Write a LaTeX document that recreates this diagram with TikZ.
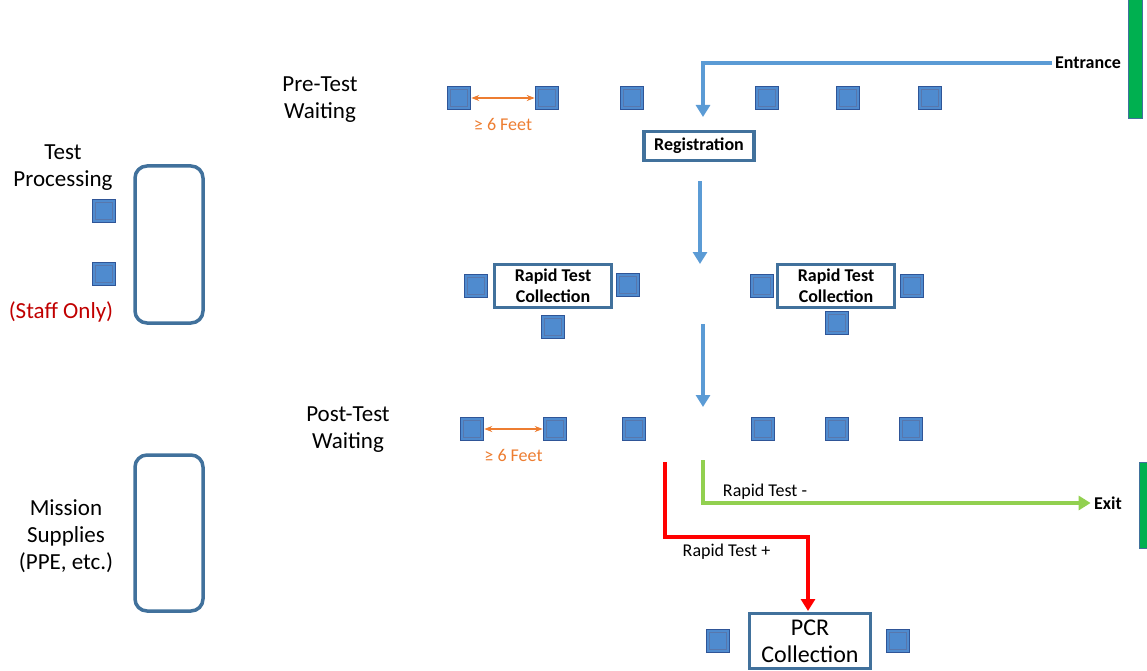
\documentclass[tikz,border=0pt]{standalone}
\usepackage{fontspec}
\setmainfont{Carlito}
\usetikzlibrary{arrows.meta}
\definecolor{seatblue}{RGB}{79,139,207}
\definecolor{seatedge}{RGB}{47,85,151}
\definecolor{boxedge}{RGB}{65,113,156}
\definecolor{flowblue}{RGB}{91,155,213}
\definecolor{flowgreen}{RGB}{146,208,80}
\definecolor{doorgreen}{RGB}{0,176,80}
\definecolor{feetorange}{RGB}{237,125,49}
\definecolor{staffred}{RGB}{192,0,0}
\tikzset{
  seat/.style={draw=seatedge,fill=seatblue,line width=1.5pt,minimum size=23pt,inner sep=0pt,
    path picture={\draw[seatedge!80,line width=0.6pt] ([shift={(3pt,-3pt)}]path picture bounding box.north west) rectangle ([shift={(-3pt,3pt)}]path picture bounding box.south east);}},
  station/.style={draw=boxedge,line width=3.5pt,fill=white,align=center,inner sep=0pt,font=\fontsize{18}{21}\selectfont\bfseries},
  room/.style={draw=boxedge,line width=3.5pt,rounded corners=12pt},
  lbl/.style={align=center,font=\fontsize{23}{27}\selectfont},
  small/.style={font=\fontsize{18}{21}\selectfont},
  flow/.style={line width=3.5pt,-{Triangle[length=12pt,width=14pt]}},
  feet/.style={feetorange,line width=1.5pt,{Stealth[length=8pt]}-{Stealth[length=8pt]}}
}
\begin{document}
\begin{tikzpicture}[x=1pt,y=-1pt]
    \useasboundingbox (0,0) rectangle (1147,671);
    \node[lbl] (pretest) at (320,100) {Pre-Test\\Waiting};
    \foreach \n/\x in {a/459,b/547,c/632,d/767,e/848,f/930}
        \node[seat] (pre\n) at (\x,98) {};
    \draw[feet] (prea) -- (preb) node[midway,below=16pt,small,text=feetorange] {≥ 6 Feet};
    \node[font=\fontsize{18}{21}\selectfont\bfseries] (entrance) at (1088,63) {Entrance};
    \fill[doorgreen,draw=boxedge] (1128,-2) rectangle (1142,118);
    \node[station,minimum width=110pt,minimum height=29pt] (reg) at (699,146) {Registration};
    \coordinate (regin) at (703,117);
    \draw[flow,flowblue] (entrance.west) -| (regin);
    \coordinate (rt1) at (700,181);
    \coordinate (rt2) at (700,264);
    \draw[flow,flowblue] (rt1) -- (rt2);
    \node[station,minimum width=117pt,minimum height=43pt] (rapidl) at (553,286) {Rapid Test\\Collection};
    \node[station,minimum width=117pt,minimum height=43pt] (rapidr) at (836,286) {Rapid Test\\Collection};
    \node[seat] (rla) at (476,286) {};
    \node[seat] (rlb) at (628,285) {};
    \node[seat] (rlc) at (553,327) {};
    \node[seat] (rra) at (762,286) {};
    \node[seat] (rrb) at (912,286) {};
    \node[seat] (rrc) at (837,323) {};
    \coordinate (pt1) at (703,324);
    \coordinate (pt2) at (703,407);
    \draw[flow,flowblue] (pt1) -- (pt2);
    \node[lbl] (posttest) at (348,430) {Post-Test\\Waiting};
    \foreach \n/\x in {a/472,b/555,c/634,d/763,e/837,f/911}
        \node[seat] (post\n) at (\x,429) {};
    \draw[feet] (posta) -- (postb) node[midway,below=16pt,small,text=feetorange] {≥ 6 Feet};
    \node[font=\fontsize{18}{21}\selectfont\bfseries] (exit) at (1108,503) {Exit};
    \fill[doorgreen,draw=boxedge] (1139,462) rectangle (1149,548);
    \coordinate (neg) at (703,460);
    \draw[flow,flowgreen] (neg) |- (exit.west) node[pos=0.58,above=-1pt,small,text=black] {Rapid Test -};
    \node[station,minimum width=121pt,minimum height=55pt,font=\fontsize{24}{27}\selectfont] (pcr) at (810,641) {PCR\\Collection};
    \coordinate (pos) at (665,462);
    \coordinate (pcrin) at (808,611);
    \draw[flow,red] (pos) -- (665,537) -- (808,537) node[pos=0.43,below=2pt,small,text=black] {Rapid Test +} -- (pcrin);
    \node[seat] (pcra) at (718,641) {};
    \node[seat] (pcrb) at (898,641) {};
    \node[lbl] (proc) at (63,168) {Test\\Processing};
    \draw[room] (135,166) rectangle (203,323);
    \node[seat] (proca) at (104,211) {};
    \node[seat] (procb) at (104,274) {};
    \node[lbl,text=staffred] (staff) at (61,312) {(Staff Only)};
    \node[lbl] (supplies) at (66,536) {Mission\\Supplies\\(PPE, etc.)};
    \draw[room] (135,455) rectangle (203,611);
\end{tikzpicture}
\end{document}
